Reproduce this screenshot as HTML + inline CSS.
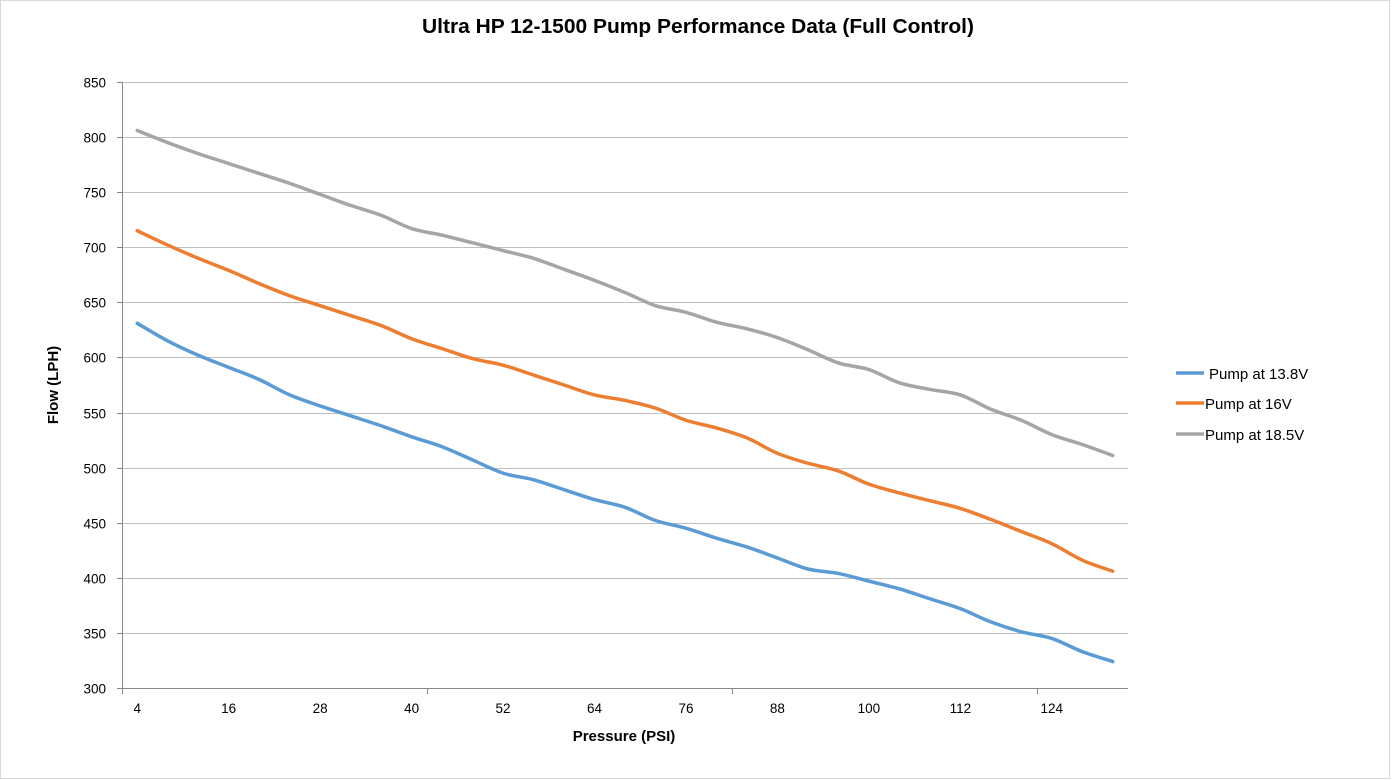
<!DOCTYPE html>
<html><head><meta charset="utf-8"><style>
html,body{margin:0;padding:0;background:#fff}
svg{display:block;font-family:"Liberation Sans",Calibri,sans-serif}
</style></head><body>
<svg id="s" width="1395" height="780" xmlns="http://www.w3.org/2000/svg">
<rect x="0.5" y="0.5" width="1389" height="778" fill="#fff" stroke="#d9d9d9"/>
<text x="698" y="33" text-anchor="middle" font-size="20" font-weight="bold" fill="#000" textLength="552" lengthAdjust="spacingAndGlyphs">Ultra HP 12-1500 Pump Performance Data (Full Control)</text>
<g id="grid"></g>
<text x="624" y="741" text-anchor="middle" font-size="15" font-weight="bold">Pressure (PSI)</text>
<text transform="translate(58,385) rotate(-90)" text-anchor="middle" font-size="15" font-weight="bold">Flow (LPH)</text>
<g id="series"></g>
<g font-size="15" fill="#000">
<line x1="1176" y1="373" x2="1204" y2="373" stroke="#5b9bd5" stroke-width="3.5"/>
<text x="1209" y="379">Pump at 13.8V</text>
<line x1="1176" y1="403" x2="1204" y2="403" stroke="#ed7d31" stroke-width="3.5"/>
<text x="1205" y="409">Pump at 16V</text>
<line x1="1176" y1="434" x2="1204" y2="434" stroke="#a5a5a5" stroke-width="3.5"/>
<text x="1205" y="440">Pump at 18.5V</text>
</g>
</svg>
<script>
var x0=122,x1=1128,yTop=82,yBot=688;
var n=33,cw=(x1-x0)/n;
function Y(v){return yBot-(v-300)*(yBot-yTop)/550;}
function X(i){return x0+cw*(i+0.5);}
var g=document.getElementById('grid'),h='';
for(var v=300;v<=850;v+=50){var y=Math.round(Y(v))+0.5;
h+='<line x1="'+x0+'" y1="'+y+'" x2="'+x1+'" y2="'+y+'" stroke="'+(v==300?'#868686':'#bfbfbf')+'"/>';
h+='<line x1="117" y1="'+y+'" x2="122" y2="'+y+'" stroke="#868686"/>';
h+='<text x="106" y="'+(y+5)+'" text-anchor="end" font-size="13.5">'+v+'</text>';}
h+='<line x1="122.5" y1="82" x2="122.5" y2="688" stroke="#868686"/>';
for(var k=0;k<=3;k++){var xx=Math.round(x0+cw*10*k)+0.5;h+='<line x1="'+xx+'" y1="688" x2="'+xx+'" y2="694" stroke="#868686"/>';}
for(var i=0;i<n;i+=3){h+='<text x="'+X(i)+'" y="713" text-anchor="middle" font-size="13.5">'+(4+4*i)+'</text>';}
g.innerHTML=h;
var data=[
["#5b9bd5",[631,615,602,591,580,566,556,547,538,528,519,507,495,489,480,471,464,452,445,436,428,418,408,404,397,390,381,372,360,351,345,333,324]],
["#ed7d31",[715,702,690,679,667,656,647,638,629,617,608,599,593,584,575,566,561,554,543,536,527,513,504,497,485,477,470,463,453,442,431,416,406]],
["#a5a5a5",[806,795,785,776,767,758,748,738,729,717,711,704,697,690,680,670,659,647,641,632,626,618,607,595,589,577,571,566,553,543,530,521,511]]];
var s='';
data.forEach(function(d){var p=d[1].map(function(v,i){return [X(i),Y(v)];});
var path='M'+p[0][0]+' '+p[0][1];
for(var i=0;i<p.length-1;i++){var a=p[Math.max(0,i-1)],b=p[i],c=p[i+1],e=p[Math.min(p.length-1,i+2)];
var t=1/6;path+=' C'+(b[0]+(c[0]-a[0])*t)+' '+(b[1]+(c[1]-a[1])*t)+' '+(c[0]-(e[0]-b[0])*t)+' '+(c[1]-(e[1]-b[1])*t)+' '+c[0]+' '+c[1];}
s+='<path d="'+path+'" fill="none" stroke="'+d[0]+'" stroke-width="3.5" stroke-linecap="round" stroke-linejoin="round"/>';});
document.getElementById('series').innerHTML=s;
</script>
</body></html>
